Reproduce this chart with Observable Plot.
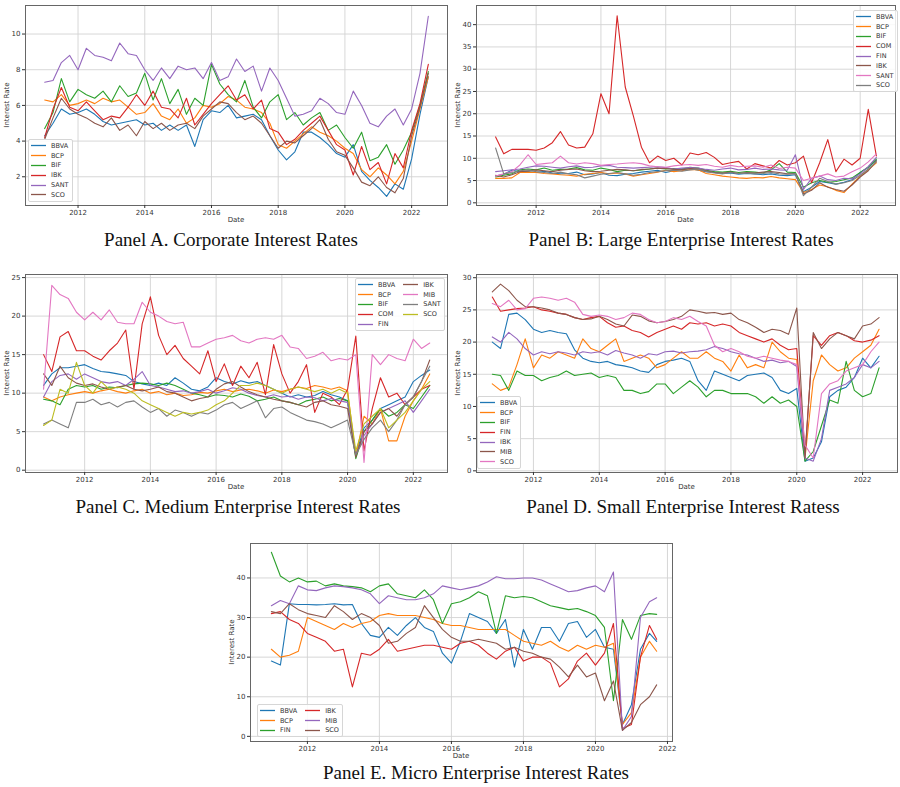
<!DOCTYPE html>
<html><head><meta charset="utf-8">
<script src="https://cdn.jsdelivr.net/npm/d3@7"></script>
<script src="https://cdn.jsdelivr.net/npm/@observablehq/plot@0.6"></script>
<style>
body{margin:0;background:#fff;}
#fig{position:relative;width:900px;height:787px;overflow:hidden;background:#fff;font-family:"DejaVu Sans",sans-serif;}
.cap{position:absolute;font-family:"Liberation Serif","Times New Roman",serif;font-size:19px;line-height:19px;color:#111;white-space:nowrap;transform:translateX(-50%);}
.ylab{position:absolute;font-size:7px;color:#333;transform:translate(-50%,-50%) rotate(-90deg);white-space:nowrap;}
.xlab{position:absolute;font-size:7px;color:#333;transform:translate(-50%,-50%);white-space:nowrap;}
.legend{position:absolute;background:rgba(255,255,255,0.85);border:1px solid #d6d6d6;border-radius:2px;font-size:6.5px;color:#333;display:flex;padding:1px 3px 1px 2px;}
.lcol{display:flex;flex-direction:column;}
.lrow{display:flex;align-items:center;height:9.8px;white-space:nowrap;}
.lrow svg{margin-right:5px;}
</style></head><body><div id="fig"></div><script>
// ---------- colours (matplotlib tab10) ----------
const C = {blue:"#1f77b4", orange:"#ff7f0e", green:"#2ca02c", red:"#d62728", purple:"#9467bd", brown:"#8c564b", pink:"#e377c2", gray:"#7f7f7f", olive:"#bcbd22"};
const xTicks = [2012, 2014, 2016, 2018, 2020, 2022];

// ---------- Panel A: Corporate ----------
const datesA = [2011,2011.25,2011.5,2011.75,2012,2012.25,2012.5,2012.75,2013,2013.25,2013.5,2013.75,2014,2014.25,2014.5,2014.75,2015,2015.25,2015.5,2015.75,2016,2016.25,2016.5,2016.75,2017,2017.25,2017.5,2017.75,2018,2018.25,2018.5,2018.75,2019,2019.25,2019.5,2019.75,2020,2020.25,2020.5,2020.75,2021,2021.25,2021.5,2021.75,2022,2022.25,2022.5];
const namesA = ["BBVA","BCP","BIF","IBK","SANT","SCO"];
const bbvaA = [4.3,5.0,5.8,5.5, 5.6,5.8,5.5,5.1, 4.9,5.0,5.1,5.2, 4.9,5.0,4.6,4.9, 4.6,4.9,3.7,5.2, 5.7,5.6,6.0,5.3, 5.4,5.5,5.2,4.3, 3.5,2.95,3.4,4.5, 4.5,4.2,3.8,3.3, 3.1,3.8,2.3,1.8, 1.4,0.9,1.6,1.3, 3.0,5.5,7.6];
const bcpA  = [6.3,6.2,6.6,6.0, 6.1,6.3,6.1,6.4, 6.2,6.3,5.9,5.5, 5.6,6.1,5.4,5.2, 5.8,5.0,5.3,6.0, 5.9,6.1,6.5,6.3, 5.9,5.8,5.6,5.0, 3.8,3.6,4.0,4.4, 4.8,4.5,4.3,4.0, 3.6,3.3,2.4,2.0, 2.5,2.1,1.6,2.3, 4.0,5.8,7.6];
const bifA  = [4.7,5.6,7.5,6.2, 6.9,6.6,6.4,6.8, 6.2,7.1,6.5,6.7, 7.8,6.3,7.5,6.1, 6.9,5.5,6.4,6.0, 8.3,7.2,6.6,6.2, 7.4,5.9,5.3,6.2, 6.6,5.2,5.6,4.9, 5.3,5.6,4.6,4.9, 4.2,3.6,4.5,2.9, 3.1,3.8,2.7,3.5, 4.5,6.0,7.9];
const ibkA  = [4.2,5.8,7.0,5.9, 5.7,6.2,5.7,5.2, 5.4,5.3,5.9,6.6, 6.0,6.8,5.9,5.8, 5.3,6.4,4.9,5.5, 6.1,6.6,7.1,6.3, 6.6,5.8,6.3,4.7, 4.5,3.8,4.1,4.6, 5.0,5.4,4.6,3.8, 3.5,2.1,3.7,2.4, 2.8,1.6,3.3,2.5, 4.6,6.1,8.3];
const santA = [7.3,7.4,8.4,8.8, 8.0,9.2,8.8,8.7, 8.5,9.5,8.9,8.8, 8.0,7.4,8.1,7.5, 8.2,8.0,8.1,7.5, 8.4,7.4,7.6,8.6, 7.9,8.2,6.8,8.1, 7.4,6.4,5.4,5.5, 5.7,6.4,6.1,5.6, 5.5,6.8,6.0,5.0, 4.8,5.4,5.8,4.9, 5.8,7.8,11.0];
const scoA  = [4.1,5.3,6.4,5.8, 5.5,5.3,5.0,4.8, 5.3,4.6,4.9,4.3, 5.1,4.7,5.0,4.6, 4.9,5.0,4.7,5.4, 5.8,6.2,6.1,5.6, 5.2,5.4,5.0,4.3, 3.6,4.0,3.9,4.3, 4.7,5.2,4.1,3.4, 3.2,2.5,1.7,1.5, 2.0,1.4,1.1,1.9, 4.3,5.9,7.8];

// ---------- Panels B, C, D share dates ----------
const datesBCD = [2010.75,2011,2011.25,2011.5,2011.75,2012,2012.25,2012.5,2012.75,2013,2013.25,2013.5,2013.75,2014,2014.25,2014.5,2014.75,2015,2015.25,2015.5,2015.75,2016,2016.25,2016.5,2016.75,2017,2017.25,2017.5,2017.75,2018,2018.25,2018.5,2018.75,2019,2019.25,2019.5,2019.75,2020,2020.25,2020.5,2020.75,2021,2021.25,2021.5,2021.75,2022,2022.25,2022.5];

// Panel B: Large enterprise
const namesB = ["BBVA","BCP","BIF","COM","FIN","IBK","SANT","SCO"];
const bbvaB = [6.0, 6.4,7.3,7.0,7.0, 6.8,7.1,6.7,6.5, 6.6,6.9,6.3,6.5, 6.8,6.2,6.1,6.4, 6.6,6.9,7.1,7.3, 6.8,7.2,7.5,7.7, 7.3,7.0,6.8,6.6, 6.7,6.4,6.6,6.5, 6.3,6.5,6.2,6.1, 6.3,2.5,3.5,4.8, 4.5,4.2,4.6,5.2, 6.8,8.0,9.6];
const bcpB  = [5.5, 5.5,5.6,6.8,6.9, 6.8,6.6,6.5,6.3, 6.2,6.0,6.4,6.6, 6.8,6.5,6.7,6.5, 6.0,6.3,6.6,6.9, 7.3,7.0,7.2,7.5, 7.4,6.6,6.3,6.0, 5.8,5.6,5.5,5.7, 5.6,5.9,5.6,5.4, 5.2,2.3,3.0,4.0, 3.6,2.8,2.3,4.2, 6.0,7.4,9.0];
const bifB  = [5.8, 6.2,6.5,7.4,7.6, 7.4,7.8,7.3,7.5, 7.6,7.9,7.4,7.3, 7.8,7.5,7.0,7.3, 7.2,7.4,7.6,7.8, 7.6,7.7,7.6,8.0, 7.8,7.3,7.0,6.9, 7.1,6.8,7.0,6.9, 6.7,7.4,8.8,6.9, 6.8,3.5,4.5,5.0, 4.6,4.8,5.2,5.6, 6.8,8.0,9.8];
const comB  = [14.8, 11.0,12.0,12.0,12.0, 11.8,12.3,13.5,16.0, 13.0,12.3,12.5,15.5, 24.5,20.0,42.0,26.0, 19.5,12.5,9.0,10.5, 9.5,10.0,8.5,11.2, 10.8,11.3,10.2,8.6, 9.0,9.3,7.6,8.8, 8.3,7.8,9.5,8.5, 9.0,10.5,4.5,9.0, 14.2,7.0,9.8,8.5, 10.0,21.0,10.5];
const finB  = [7.0, 7.2,7.4,7.6,8.0, 8.3,8.2,8.0,7.8, 8.1,8.3,7.9,8.0, 8.3,8.4,8.0,7.9, 7.8,7.9,8.0,8.1, 7.9,7.6,7.8,7.9, 7.8,7.5,7.3,7.6, 7.8,7.4,7.5,7.8, 7.5,7.6,7.4,7.3, 10.8,3.0,5.5,6.0, 5.2,5.0,5.5,5.4, 6.5,8.2,10.2];
const ibkB  = [6.2, 5.8,6.3,7.0,7.2, 7.4,7.2,7.0,7.3, 7.5,7.6,7.2,7.0, 7.1,7.3,7.5,7.4, 7.2,7.5,7.6,7.8, 7.7,7.5,7.4,7.7, 7.6,7.2,6.8,6.7, 6.9,6.6,6.8,6.7, 6.9,7.0,6.8,6.5, 6.6,2.0,2.8,4.5, 3.5,3.0,2.6,4.0, 5.8,7.2,9.4];
const santB = [6.0, 6.5,7.0,8.5,10.8, 8.6,8.8,9.0,10.5, 9.0,8.7,9.0,8.8, 8.4,8.6,8.7,8.9, 9.0,8.8,8.3,8.1, 8.0,8.3,8.5,8.6, 8.4,8.6,8.2,8.0, 8.4,8.1,8.2,8.3, 8.0,8.5,7.7,8.0, 7.8,5.0,5.5,6.0, 6.5,5.8,6.0,7.0, 7.8,9.2,11.0];
const scoB  = [12.3, 6.5,6.8,7.2,7.4, 7.0,6.8,6.6,6.9, 6.5,6.3,5.6,6.0, 6.4,6.6,6.8,6.5, 6.2,6.4,6.8,7.0, 7.2,7.3,7.1,7.4, 7.6,7.0,6.7,6.5, 6.8,6.6,6.7,6.5, 6.6,6.8,6.5,6.4, 6.6,1.6,3.5,5.5, 4.8,4.2,4.5,5.0, 6.2,7.6,9.2];

// Panel C: Medium enterprise
const namesC = ["BBVA","BCP","BIF","COM","FIN","IBK","MIB","SANT","SCO"];
const bbvaC = [11.0, 12.5,13.3,13.3,13.5, 13.7,13.2,12.8,12.7, 12.5,12.3,11.5,11.2, 11.0,11.3,11.0,12.0, 11.3,10.5,10.3,10.8, 12.0,11.5,11.2,11.6, 11.3,11.5,11.0,10.5, 10.0,9.5,9.8,9.5, 9.7,10.2,9.8,9.5, 9.0,2.0,5.5,6.5, 8.0,8.5,9.0,9.5, 11.5,12.3,13.0];
const bcpC  = [9.5, 9.0,9.5,9.8,10.0, 10.2,10.0,10.3,10.5, 10.2,10.0,10.3,10.5, 10.0,10.2,9.8,10.0, 9.7,9.8,10.1,10.0, 10.3,10.5,10.2,10.4, 10.5,10.3,10.0,10.4, 10.2,10.5,10.8,10.6, 11.0,10.8,10.5,10.8, 10.3,1.8,7.0,6.0, 8.0,3.8,3.8,7.0, 9.0,10.5,12.5];
const bifC  = [9.2, 9.0,8.5,10.5,11.0, 10.8,11.0,10.5,10.8, 10.7,11.0,11.2,11.3, 11.2,11.0,11.3,11.0, 10.5,10.0,9.8,9.5, 9.8,9.7,9.5,9.9, 9.6,9.0,9.2,9.5, 9.0,8.8,8.5,9.0, 9.2,9.5,9.0,9.3, 9.0,1.5,5.0,6.5, 8.0,7.0,7.5,8.5, 8.0,9.5,11.0];
const comC  = [15.0, 12.8,17.3,18.0,15.5, 15.5,14.8,14.3,15.5, 16.5,18.2,10.5,19.0, 22.5,17.5,15.0,16.2, 14.5,13.5,12.5,15.5, 11.5,13.8,11.0,13.5, 12.0,14.0,9.8,16.3, 12.5,10.0,11.5,13.7, 7.5,10.0,9.5,8.5, 10.5,17.4,2.5,8.0, 12.0,9.5,10.0,8.5, 9.5,10.5,11.0];
const finC  = [9.5, 11.5,12.3,12.5,11.8, 12.5,12.0,11.5,11.3, 11.5,11.0,11.8,12.8, 11.0,10.8,10.5,10.2, 10.3,10.0,10.2,10.5, 10.0,10.3,10.7,10.5, 10.0,9.7,9.5,9.8, 9.5,9.6,9.2,9.5, 9.4,9.0,9.3,9.0, 8.8,2.0,4.5,6.0, 7.5,8.0,8.5,9.0, 7.5,9.0,10.5];
const ibkC  = [12.5, 11.0,13.5,12.0,11.3, 11.0,11.2,10.8,10.5, 10.8,11.0,10.5,10.3, 10.5,10.8,10.2,10.0, 9.5,9.0,9.3,9.5, 10.5,11.2,11.5,10.8, 10.2,9.8,9.5,9.2, 9.0,8.8,8.5,8.2, 8.8,9.0,8.5,8.3, 8.0,1.7,5.0,6.0, 7.5,8.0,7.0,8.5, 9.5,11.5,14.3];
const mibC  = [10.5, 24.0,22.8,22.3,20.5, 19.5,20.5,19.5,20.8, 19.2,19.0,19.0,21.8, 20.5,20.0,19.3,19.0, 19.2,16.0,16.0,16.5, 17.0,17.2,17.5,16.8, 16.5,17.0,17.2,17.0, 17.5,16.0,15.8,14.5, 14.8,15.3,14.2,14.5, 14.3,15.0,1.0,15.0, 13.7,15.0,14.5,14.2, 17.0,15.8,16.5];
const santC = [6.0, 6.5,6.0,5.5,8.8, 8.8,9.2,8.5,8.8, 8.2,8.8,9.0,8.2, 7.5,8.0,7.0,7.8, 7.5,7.0,7.5,7.3, 7.8,8.5,8.8,8.0, 8.5,9.0,6.8,8.0, 8.2,7.5,7.0,6.5, 6.3,6.0,5.5,6.0, 6.5,2.0,4.0,5.5, 6.5,5.0,6.5,8.5, 9.5,11.5,13.5];
const scoC  = [5.8, 6.5,10.5,10.0,14.0, 11.0,10.0,11.5,10.5, 10.8,10.5,10.0,9.0, 8.5,8.0,7.5,7.0, 7.5,7.3,7.5,7.8, 8.5,9.0,10.0,11.0, 11.0,11.3,11.0,10.5, 10.0,10.5,10.8,10.5, 10.2,10.5,10.0,10.5, 10.0,2.5,6.0,7.0, 8.0,5.5,6.5,7.5, 9.0,10.5,11.5];

// Panel D: Small enterprise
const namesD = ["BBVA","BCP","BIF","FIN","IBK","MIB","SCO"];
const bbvaD = [20.0, 19.0,24.3,24.5,23.5, 22.0,21.5,21.8,21.5, 21.3,18.8,17.5,17.0, 16.8,17.0,16.5,16.3, 16.0,15.5,15.3,16.5, 17.0,17.2,17.5,17.0, 14.0,12.5,15.5,15.0, 14.5,14.0,14.8,15.0, 15.2,14.5,12.5,12.0, 12.8,1.5,2.0,4.5, 11.5,12.5,13.0,14.5, 17.5,16.0,17.8];
const bcpD  = [13.5, 12.5,13.0,16.5,20.5, 16.0,18.0,17.5,18.5, 18.0,17.5,20.5,19.0, 18.5,19.5,20.5,17.0, 17.5,18.0,17.5,16.0, 16.5,17.5,18.5,17.5, 17.5,18.5,17.5,17.0, 15.5,18.0,16.0,16.5, 16.0,20.0,18.5,17.5, 17.3,2.0,14.0,18.0, 16.5,15.5,16.0,17.5, 18.5,19.5,22.0];
const bifD  = [15.0, 14.8,12.5,15.5,14.8, 14.8,14.0,14.5,14.8, 15.5,14.8,15.0,15.2, 14.5,14.8,14.5,12.5, 12.5,12.0,12.3,13.5, 13.5,12.0,13.0,14.0, 13.0,11.5,12.5,12.5, 12.0,12.0,12.0,11.5, 10.5,11.5,10.5,11.0, 10.0,1.5,3.0,7.0, 11.0,10.5,17.0,12.5, 11.5,12.0,16.0];
const finD  = [27.0, 24.8,25.0,25.2,25.3, 25.5,25.0,24.8,24.5, 24.3,23.8,23.5,23.8, 24.0,23.0,22.3,22.5, 21.8,21.5,20.8,21.5, 22.0,22.5,22.0,23.0, 22.8,23.0,22.5,22.8, 22.5,21.5,21.0,20.5, 20.0,20.5,19.5,18.8, 19.0,2.5,21.0,19.5, 21.0,21.5,21.0,20.2, 20.0,20.3,21.0];
const ibkD  = [20.8, 20.0,21.5,20.5,19.0, 18.0,18.5,18.2,18.5, 18.3,18.0,18.5,18.3, 18.5,18.0,18.7,18.3, 18.0,17.5,18.2,18.0, 18.5,18.6,18.3,18.5, 18.6,18.8,19.3,19.0, 18.5,18.2,18.0,17.5, 17.0,17.2,16.8,17.0, 16.2,2.0,1.5,5.0, 12.5,13.0,13.5,14.5, 16.5,16.0,17.0];
const mibD  = [27.8, 29.0,28.0,26.5,25.5, 25.5,25.3,25.0,24.5, 24.3,23.8,23.5,23.6, 24.0,23.5,22.8,22.5, 24.2,24.0,23.3,23.0, 23.2,23.5,24.0,25.0, 24.8,24.5,24.6,24.3, 24.5,23.5,23.0,22.3, 21.5,22.0,21.8,21.2, 25.3,2.0,21.5,19.0, 20.5,21.5,21.0,20.5, 22.5,22.8,23.8];
const scoD  = [26.0, 25.5,26.5,25.0,25.2, 26.8,27.0,26.8,26.5, 26.8,26.2,24.3,24.0, 24.2,24.0,23.5,23.8, 24.5,24.3,23.5,23.0, 23.2,23.8,23.5,24.0, 23.2,22.5,19.5,18.5, 19.0,18.5,17.8,17.5, 17.8,17.5,17.2,17.0, 16.5,4.0,2.0,12.0, 13.5,14.0,15.5,16.0, 16.5,18.5,20.0];

// ---------- Panel E: Micro enterprise ----------
const datesE = [2011,2011.25,2011.5,2011.75,2012,2012.25,2012.5,2012.75,2013,2013.25,2013.5,2013.75,2014,2014.25,2014.5,2014.75,2015,2015.25,2015.5,2015.75,2016,2016.25,2016.5,2016.75,2017,2017.25,2017.5,2017.75,2018,2018.25,2018.5,2018.75,2019,2019.25,2019.5,2019.75,2020,2020.25,2020.5,2020.75,2021,2021.25,2021.5,2021.7];
const namesE = ["BBVA","BCP","FIN","IBK","MIB","SCO"];
const bbvaE = [19.0,18.0,33.5,33.3, 33.3,33.2,33.3,33.5, 33.2,33.3,28.5,25.5, 25.0,27.5,25.5,28.0, 30.0,27.5,26.5,21.0, 18.5,24.0,31.0,30.0, 29.0,26.0,29.5,17.5, 27.0,22.0,27.5,27.5, 24.0,28.5,29.0,25.0, 27.0,22.5,22.0,3.0, 8.0,22.0,26.0,24.0];
const bcpE  = [22.0,20.0,20.5,21.5, 30.0,29.0,28.0,27.0, 28.5,27.5,28.5,29.0, 30.5,31.0,30.5,30.5, 30.5,30.0,29.5,28.5, 28.0,28.0,27.5,27.0, 27.0,27.0,27.0,25.5, 24.0,23.5,23.0,24.0, 22.5,21.5,23.0,22.0, 23.0,22.5,23.5,3.0, 6.0,20.0,24.0,21.5];
const finE  = [46.5,40.5,39.0,40.0, 39.0,39.2,38.0,38.5, 38.0,37.8,37.5,36.5, 38.0,38.5,36.0,35.5, 35.0,37.0,34.5,28.5, 33.5,34.0,35.0,36.5, 35.5,26.0,35.5,35.0, 35.3,35.0,34.0,33.0, 32.5,32.0,32.3,31.5, 30.5,27.5,9.0,29.5, 24.5,30.5,31.0,30.8];
const ibkE  = [31.0,31.5,29.5,28.5, 26.0,25.0,24.0,21.5, 22.0,12.5,21.0,20.5, 22.0,24.5,21.5,22.0, 22.5,23.0,23.0,22.5, 22.0,23.5,24.0,23.0, 21.0,19.5,21.5,22.5, 19.0,20.0,20.0,18.5, 12.5,14.5,19.0,21.0, 18.0,21.0,28.5,2.0, 3.0,20.0,28.0,24.5];
const mibE  = [33.0,34.3,33.5,38.0, 37.0,36.8,37.5,38.0, 37.8,37.5,37.0,36.0, 33.5,35.5,35.0,34.5, 34.5,35.0,36.0,38.0, 37.5,37.0,37.5,38.0, 39.0,40.3,39.8,39.8, 40.0,40.0,39.5,38.5, 37.5,36.5,36.8,37.5, 38.0,36.5,41.5,1.5, 5.0,30.0,34.0,35.0];
const scoE  = [31.5,31.0,33.5,32.0, 31.0,30.5,30.0,33.0, 31.5,29.5,31.0,30.0, 28.0,23.5,24.0,26.0, 27.5,33.0,30.0,27.0, 25.0,24.0,24.0,24.5, 24.0,23.5,22.0,22.5, 21.5,21.0,20.0,19.5, 17.5,15.0,18.0,15.0, 16.0,9.0,14.0,1.5, 3.5,8.0,10.0,13.0];

// ---------- panel definitions ----------
const panels = [
  {frame:{l:25,t:5,r:447,b:205}, xDomain:[2010.425,2023.075], yDomain:[0.39,11.6], yTicks:[2,4,6,8,10],
   dates:datesA, names:namesA, values:[bbvaA,bcpA,bifA,ibkA,santA,scoA],
   colors:[C.blue,C.orange,C.green,C.red,C.purple,C.brown],
   caption:"Panel A. Corporate Interest Rates", capX:231, capY:230,
   legend:{x:28,y:139,cols:[[0,1,2,3,4,5]]}},
  {frame:{l:476,t:5,r:895,b:205}, xDomain:[2010.16,2023.09], yDomain:[-0.6,44.3], yTicks:[0,5,10,15,20,25,30,35,40],
   dates:datesBCD, names:namesB, values:[bbvaB,bcpB,bifB,comB,finB,ibkB,santB,scoB],
   colors:[C.blue,C.orange,C.green,C.red,C.purple,C.brown,C.pink,C.gray],
   caption:"Panel B: Large Enterprise Interest Rates", capX:681, capY:230,
   legend:{x:853,y:10,cols:[[0,1,2,3,4,5,6,7]]}},
  {frame:{l:25,t:274,r:447,b:472}, xDomain:[2010.2,2023.04], yDomain:[-0.3,25.4], yTicks:[0,5,10,15,20,25],
   dates:datesBCD, names:namesC, values:[bbvaC,bcpC,bifC,comC,finC,ibkC,mibC,santC,scoC],
   colors:[C.blue,C.orange,C.green,C.red,C.purple,C.brown,C.pink,C.gray,C.olive],
   caption:"Panel C. Medium Enterprise Interest Rates", capX:238, capY:497,
   legend:{x:355,y:278,cols:[[0,1,2,3,4],[5,6,7,8]]}},
  {frame:{l:476,t:274,r:897,b:472}, xDomain:[2010.27,2023.06], yDomain:[-0.26,30.5], yTicks:[0,5,10,15,20,25,30],
   dates:datesBCD, names:namesD, values:[bbvaD,bcpD,bifD,finD,ibkD,mibD,scoD],
   colors:[C.blue,C.orange,C.green,C.red,C.purple,C.brown,C.pink],
   caption:"Panel D. Small Enterprise Interest Ratess", capX:683, capY:497,
   legend:{x:477,y:396,cols:[[0,1,2,3,4,5,6]]}},
  {frame:{l:250,t:543,r:672,b:741}, xDomain:[2010.42,2022.14], yDomain:[-1.3,48.7], yTicks:[0,10,20,30,40],
   dates:datesE, names:namesE, values:[bbvaE,bcpE,finE,ibkE,mibE,scoE],
   colors:[C.blue,C.orange,C.green,C.red,C.purple,C.brown],
   caption:"Panel E. Micro Enterprise Interest Rates", capX:476, capY:763,
   legend:{x:257,y:704,cols:[[0,1,2],[3,4,5]]}}
];

const fig = document.getElementById("fig");
const mL = 28, mR = 3, mT = 3, mB = 20;

function div(cls, text, x, y) {
  const d = document.createElement("div");
  d.className = cls; d.textContent = text;
  d.style.left = x + "px"; d.style.top = y + "px";
  fig.appendChild(d); return d;
}

for (const p of panels) {
  const fw = p.frame.r - p.frame.l, fh = p.frame.b - p.frame.t;
  const rows = [];
  p.names.forEach((n, k) => p.dates.forEach((d, i) => {
    const v = p.values[k][i];
    if (v != null) rows.push({date: d, rate: v, bank: n});
  }));
  const svg = Plot.plot({
    width: fw + mL + mR, height: fh + mT + mB,
    marginLeft: mL, marginRight: mR, marginTop: mT, marginBottom: mB,
    x: {domain: p.xDomain},
    y: {domain: p.yDomain},
    color: {domain: p.names, range: p.colors},
    style: {background: "transparent", fontFamily: "DejaVu Sans, sans-serif", fontSize: "7px", color: "#333", overflow: "visible"},
    marks: [
      Plot.gridX(xTicks, {stroke: "#d2d2d2", strokeOpacity: 1, strokeWidth: 0.9}),
      Plot.gridY(p.yTicks, {stroke: "#d2d2d2", strokeOpacity: 1, strokeWidth: 0.9}),
      Plot.line(rows, {x: "date", y: "rate", z: "bank", stroke: "bank", strokeWidth: 1.1}),
      Plot.frame({stroke: "#666", strokeWidth: 1}),
      Plot.axisX(xTicks, {tickFormat: d => String(d), tickSize: 3, tickPadding: 2, label: null}),
      Plot.axisY(p.yTicks, {tickSize: 3, tickPadding: 2, label: null})
    ]
  });
  svg.style.position = "absolute";
  svg.style.left = (p.frame.l - mL) + "px";
  svg.style.top = (p.frame.t - mT) + "px";
  fig.appendChild(svg);

  div("xlab", "Date", (p.frame.l + p.frame.r) / 2, p.frame.b + 15);
  div("ylab", "Interest Rate", p.frame.l - 18, (p.frame.t + p.frame.b) / 2);
  div("cap", p.caption, p.capX, p.capY);

  const lg = document.createElement("div");
  lg.className = "legend";
  lg.style.left = p.legend.x + "px"; lg.style.top = p.legend.y + "px";
  p.legend.cols.forEach((col, ci) => {
    const c = document.createElement("div");
    c.className = "lcol";
    if (ci > 0) c.style.marginLeft = "8px";
    for (const k of col) {
      const r = document.createElement("div");
      r.className = "lrow";
      r.innerHTML = `<svg width="15" height="3"><line x1="0" y1="1.5" x2="15" y2="1.5" stroke="${p.colors[k]}" stroke-width="1.3"/></svg><span>${p.names[k]}</span>`;
      c.appendChild(r);
    }
    lg.appendChild(c);
  });
  fig.appendChild(lg);
}
</script></body></html>
